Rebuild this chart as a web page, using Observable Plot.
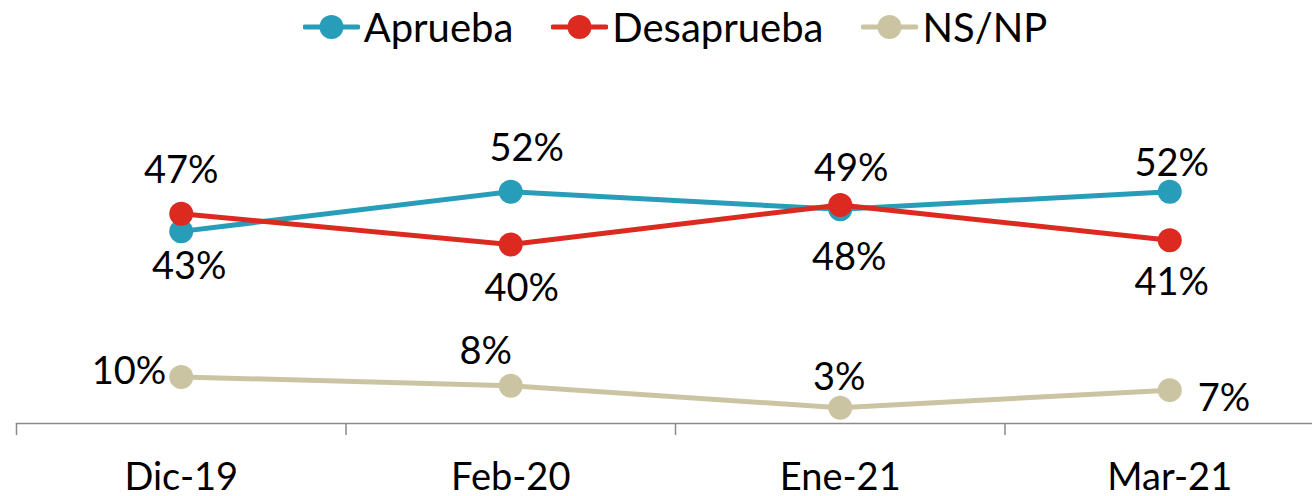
<!DOCTYPE html>
<html>
<head>
<meta charset="utf-8">
<script src="https://cdn.jsdelivr.net/npm/d3@7"></script>
<script src="https://cdn.jsdelivr.net/npm/@observablehq/plot@0.6"></script>
<style>
  html, body { margin: 0; padding: 0; background: #fff; }
  body { width: 1312px; height: 496px; overflow: hidden; font-family: Lato, "Open Sans", sans-serif; }
  #legend { height: 54px; width: 1312px; box-sizing: border-box; padding-left: 38px; display: flex; justify-content: center; align-items: center; }
  .item { display: flex; align-items: center; margin: 0 19px; }
  .item span { font-size: 40px; color: #000; margin-left: 4px; line-height: 1; }
</style>
</head>
<body>
<div id="legend"></div>
<div id="chart"></div>
<script>
const categories = ["Dic-19", "Feb-20", "Ene-21", "Mar-21"];
const seriesNames = ["Aprueba", "Desaprueba", "NS/NP"];
const aprueba = [43, 52, 48, 52];
const desaprueba = [47, 40, 49, 41];
const nsnp = [10, 8, 3, 7];

// styles (kept separate from data)
const colors = ["#279DBA", "#DC2A20", "#CBC4A3"];
// label placement per series per point: [dx, dy, anchor]
const labelPlacement = [
  [[8, 35, "middle"], [16, -43, "middle"], [9, 49, "middle"], [2, -28, "middle"]],
  [[0, -43, "middle"], [11, 44, "middle"], [11, -36, "middle"], [2, 43, "middle"]],
  [[-15, -5, "end"], [-25, -34, "middle"], [-1, -30, "middle"], [28, 9, "start"]]
];

const seriesValues = [aprueba, desaprueba, nsnp];
const rows = [];
seriesNames.forEach((s, si) => {
  seriesValues[si].forEach((v, i) => rows.push({series: s, si, i, cat: categories[i], value: v}));
});

// legend
const legend = document.getElementById("legend");
seriesNames.forEach((s, si) => {
  const item = document.createElement("div");
  item.className = "item";
  item.innerHTML = `<svg width="57" height="28"><line x1="2" y1="14" x2="55" y2="14" stroke="${colors[si]}" stroke-width="5" stroke-linecap="round"/><circle cx="28.5" cy="14" r="12" fill="${colors[si]}"/></svg><span>${s}</span>`;
  legend.appendChild(item);
});

const marks = [];
// draw NS/NP first, then Aprueba, then Desaprueba on top
[2, 0, 1].forEach(si => {
  const data = rows.filter(d => d.si === si);
  marks.push(Plot.line(data, {x: "i", y: "value", stroke: colors[si], strokeWidth: 5}));
  marks.push(Plot.dot(data, {x: "i", y: "value", r: 12, fill: colors[si]}));
});
rows.forEach(d => {
  const [dx, dy, anchor] = labelPlacement[d.si][d.i];
  marks.push(Plot.text([d], {x: "i", y: "value", text: d => d.value + "%", dx, dy, textAnchor: anchor, fontSize: 38, fill: "#000"}));
});

const boundaries = categories.map((_, i) => i - 0.5);

marks.push(Plot.frame({anchor: "bottom", stroke: "#8a8a8a", strokeWidth: 1.5}));
marks.push(Plot.axisX({ticks: boundaries, tickSize: 12, tickFormat: () => "", stroke: "#8a8a8a", strokeWidth: 1.5, label: null}));
marks.push(Plot.axisX({ticks: categories.map((_, i) => i), tickSize: 0, tickPadding: 40, tickFormat: i => categories[i], fontSize: 38, fill: "#000", label: null}));

const chart = Plot.plot({
  width: 1312,
  height: 442,
  marginLeft: 16,
  marginRight: 0,
  marginTop: 0,
  marginBottom: 73,
  style: {fontFamily: "Lato, 'Open Sans', sans-serif", background: "#fff", overflow: "visible"},
  x: {type: "linear", domain: [-0.5, 3.5], range: [16, 1334]},
  y: {domain: [0, 60], range: [366.5, 101.9], axis: null},
  marks
});
document.getElementById("chart").appendChild(chart);
</script>
</body>
</html>
